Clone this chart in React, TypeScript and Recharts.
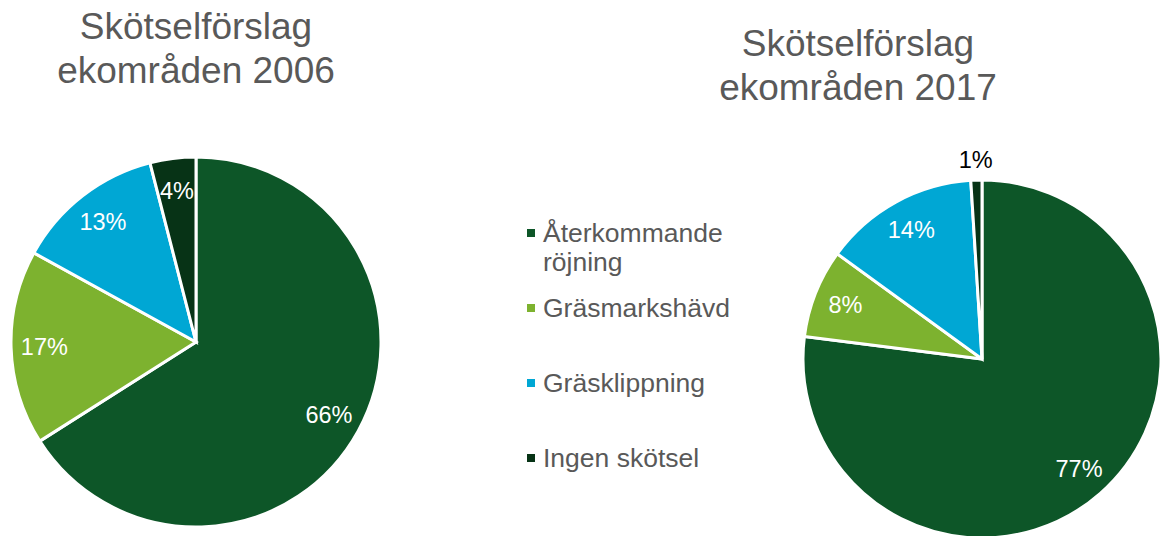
import React from 'react';
import { PieChart, Pie, Cell, Legend } from 'recharts';

const categories = ['Återkommande röjning', 'Gräsmarkshävd', 'Gräsklippning', 'Ingen skötsel'];
const values2006 = [66, 17, 13, 4];
const values2017 = [77, 8, 14, 1];
const colors = ['#0D5628', '#7DB22F', '#00A7D4', '#073316'];
const title2006 = ['Skötselförslag', 'ekområden 2006'];
const title2017 = ['Skötselförslag', 'ekområden 2017'];

const data2006 = categories.map((name, i) => ({ name, value: values2006[i] }));
const data2017 = categories.map((name, i) => ({ name, value: values2017[i] }));

const FONT = '"Liberation Sans", Arial, sans-serif';
const RADIAN = Math.PI / 180;

const renderLabel = (props: any) => {
  const { cx, cy, midAngle, outerRadius, percent } = props;
  const outside = percent < 0.02;
  const r = outside ? outerRadius + 20 : outerRadius * 0.82;
  const x = cx + r * Math.cos(-midAngle * RADIAN);
  const y = cy + r * Math.sin(-midAngle * RADIAN);
  return (
    <text
      x={x}
      y={y}
      fill={outside ? '#000000' : '#FFFFFF'}
      textAnchor="middle"
      dominantBaseline="central"
      fontFamily={FONT}
      fontSize={23.5}
    >
      {`${Math.round(percent * 100)}%`}
    </text>
  );
};

const renderLegend = (props: any) => {
  const seen = new Set<string>();
  const items = (props.payload || [])
    .filter((p: any) => {
      if (seen.has(p.value)) return false;
      seen.add(p.value);
      return true;
    })
    .sort((a: any, b: any) => categories.indexOf(a.value) - categories.indexOf(b.value));
  return (
    <div style={{ fontFamily: FONT }}>
      {items.map((p: any, i: number) => (
        <div key={i} style={{ position: 'relative', height: 75 }}>
          <div
            style={{
              position: 'absolute',
              left: 0,
              top: 10,
              width: 8,
              height: 8,
              background: colors[categories.indexOf(p.value)],
            }}
          />
          <div
            style={{
              position: 'absolute',
              left: 16,
              top: 0,
              width: 200,
              fontSize: 26.5,
              lineHeight: '29px',
              color: '#595959',
              textAlign: 'left',
            }}
          >
            {p.value}
          </div>
        </div>
      ))}
    </div>
  );
};

const Title = ({ lines, center, top }: { lines: string[]; center: number; top: number }) => (
  <div
    style={{
      position: 'absolute',
      left: center - 200,
      top,
      width: 400,
      textAlign: 'center',
      fontFamily: FONT,
      fontSize: 37,
      lineHeight: '44px',
      color: '#595959',
    }}
  >
    {lines.map((l, i) => (
      <div key={i}>{l}</div>
    ))}
  </div>
);

export default function App() {
  return (
    <div style={{ position: 'absolute', left: 0, top: 0, width: 1160, height: 536, background: '#FFFFFF', overflow: 'hidden' }}>
      <PieChart width={1160} height={536} margin={{ top: 0, right: 0, bottom: 0, left: 0 }}>
        <Pie
          data={data2006}
          dataKey="value"
          nameKey="name"
          cx={196}
          cy={342}
          outerRadius={185}
          startAngle={90}
          endAngle={-270}
          stroke="#FFFFFF"
          strokeWidth={3}
          label={renderLabel}
          labelLine={false}
          isAnimationActive={false}
        >
          {data2006.map((d, i) => (
            <Cell key={d.name} fill={colors[i]} />
          ))}
        </Pie>
        <Pie
          data={data2017}
          dataKey="value"
          nameKey="name"
          cx={982}
          cy={359}
          outerRadius={179}
          startAngle={90}
          endAngle={-270}
          stroke="#FFFFFF"
          strokeWidth={3}
          label={renderLabel}
          labelLine={false}
          isAnimationActive={false}
        >
          {data2017.map((d, i) => (
            <Cell key={d.name} fill={colors[i]} />
          ))}
        </Pie>
        <Legend
          content={renderLegend}
          wrapperStyle={{ position: 'absolute', left: 527, top: 219, width: 230, bottom: 'auto' }}
        />
      </PieChart>
      <Title lines={title2006} center={196} top={5} />
      <Title lines={title2017} center={858} top={22} />
    </div>
  );
}
